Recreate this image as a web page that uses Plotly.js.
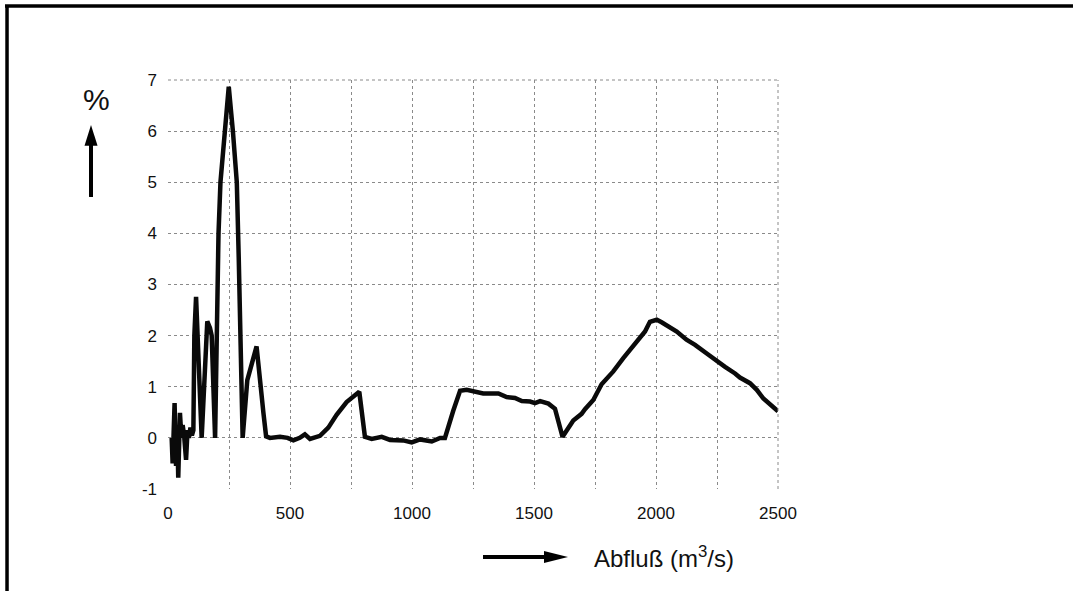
<!DOCTYPE html>
<html>
<head>
<meta charset="utf-8">
<script src="https://cdn.plot.ly/plotly-3.0.1.min.js"></script>
<style>
html,body{margin:0;padding:0;background:#fff;}
#chart{width:1076px;height:591px;}
</style>
</head>
<body>
<div id="chart"></div>
<script>
// Discharge (m3/s) and percentage values
const abfluss = [15,19,27,33,38,42,49,55,60,66,74,80,86,92,98,104,108,115,138,161,172,179,193,200,207,215,233,249,266,282,290,306,325,363,391,402,418,459,490,514,540,561,582,623,657,691,732,760,784,807,835,876,910,964,999,1033,1081,1115,1135,1169,1197,1224,1272,1292,1354,1388,1422,1450,1484,1504,1525,1559,1586,1617,1661,1695,1709,1743,1777,1825,1866,1914,1955,1975,2003,2023,2085,2125,2160,2208,2242,2283,2324,2344,2385,2413,2440,2500];
const prozent = [0,-0.5,0.68,-0.55,0.2,-0.78,0.49,0.0,0.25,0.05,-0.43,0.15,0.0,0.2,0.05,0.15,2.0,2.76,0,2.28,2.15,2.0,0,2.2,4,5,6,6.87,6,5,3.5,0,1.13,1.79,0.49,0.03,0.0,0.02,0.0,-0.05,0.0,0.07,-0.02,0.04,0.2,0.45,0.7,0.8,0.9,0.02,-0.02,0.02,-0.04,-0.05,-0.09,-0.03,-0.07,0.0,0.0,0.53,0.92,0.94,0.9,0.87,0.87,0.8,0.78,0.72,0.71,0.68,0.72,0.67,0.57,0.02,0.34,0.47,0.56,0.74,1.05,1.3,1.56,1.85,2.08,2.27,2.31,2.26,2.08,1.92,1.82,1.65,1.52,1.39,1.26,1.18,1.07,0.94,0.77,0.52];

const xTickVals = [0,500,1000,1500,2000,2500];
const xTickText = ['0','500','1000','1500','2000','2500'];
const yTickVals = [-1,0,1,2,3,4,5,6,7];
const yTickText = ['-1','0','1','2','3','4','5','6','7'];
const yLabel = '%';
const xLabel = 'Abfluß (m<sup>3</sup>/s)';

const font = 'Liberation Sans, Arial, Helvetica, sans-serif';

const trace = {
  x: abfluss, y: prozent, type: 'scatter', mode: 'lines',
  line: {color: '#0a0a0a', width: 4.5, shape: 'linear'},
  hoverinfo: 'skip'
};

const layout = {
  width: 1076, height: 591,
  margin: {l: 168, r: 298, t: 80, b: 102},
  paper_bgcolor: '#fff', plot_bgcolor: '#fff',
  showlegend: false,
  font: {family: font, color: '#111', size: 17},
  xaxis: {
    range: [0, 2500], tickvals: xTickVals, ticktext: xTickText,
    showgrid: true, gridcolor: '#8a8a8a', griddash: 'dot', gridwidth: 1,
    minor: {dtick: 250, tick0: 0, showgrid: true, gridcolor: '#8a8a8a', griddash: 'dot', gridwidth: 1, ticks: ''},
    zeroline: false, showline: false, ticks: '',
    ticklabelstandoff: 12,
    tickfont: {family: font, size: 17, color: '#111'}
  },
  yaxis: {
    range: [-1, 7], tickvals: yTickVals, ticktext: yTickText,
    showgrid: true, gridcolor: '#8a8a8a', griddash: 'dot', gridwidth: 1,
    zeroline: false, showline: false, ticks: '',
    ticklabelstandoff: 10,
    tickfont: {family: font, size: 17, color: '#111'}
  },
  shapes: [
    // right and top grid border lines
    {type: 'line', xref: 'paper', yref: 'paper', x0: 1, x1: 1, y0: 0, y1: 1, line: {color: '#8a8a8a', width: 1, dash: 'dot'}},
    {type: 'line', xref: 'paper', yref: 'paper', x0: 0, x1: 1, y0: 1, y1: 1, line: {color: '#8a8a8a', width: 1, dash: 'dot'}},
    // frame
    {type: 'line', xref: 'paper', yref: 'paper', x0: -0.2639, x1: -0.2639, y0: 1.181, y1: -0.26, line: {color: '#000', width: 3.5}},
    {type: 'line', xref: 'paper', yref: 'paper', x0: -0.2672, x1: 1.4836, y0: 1.181, y1: 1.181, line: {color: '#000', width: 3.5}},
    // y arrow
    {type: 'line', xref: 'paper', yref: 'paper', x0: -0.1262, x1: -0.1262, y0: 0.714, y1: 0.85, line: {color: '#000', width: 4}},
    {type: 'path', xref: 'paper', yref: 'paper', path: 'M -0.1262 0.890 L -0.1369 0.839 L -0.1155 0.839 Z', fillcolor: '#000', line: {color: '#000', width: 0}},
    // x arrow
    {type: 'line', xref: 'paper', yref: 'paper', x0: 0.5164, x1: 0.625, y0: -0.1663, y1: -0.1663, line: {color: '#000', width: 4}},
    {type: 'path', xref: 'paper', yref: 'paper', path: 'M 0.6557 -0.1663 L 0.6164 -0.1516 L 0.6164 -0.1809 Z', fillcolor: '#000', line: {color: '#000', width: 0}}
  ],
  annotations: [
    {xref: 'paper', yref: 'paper', x: -0.1164, y: 0.953, text: yLabel, showarrow: false,
     xanchor: 'center', yanchor: 'middle', font: {family: font, size: 30, color: '#111'}},
    {xref: 'paper', yref: 'paper', x: 0.6951, y: -0.1663, text: xLabel, showarrow: false,
     xanchor: 'left', yanchor: 'middle', font: {family: font, size: 24, color: '#111'}}
  ]
};

Plotly.newPlot('chart', [trace], layout, {staticPlot: true, displayModeBar: false});
</script>
</body>
</html>
